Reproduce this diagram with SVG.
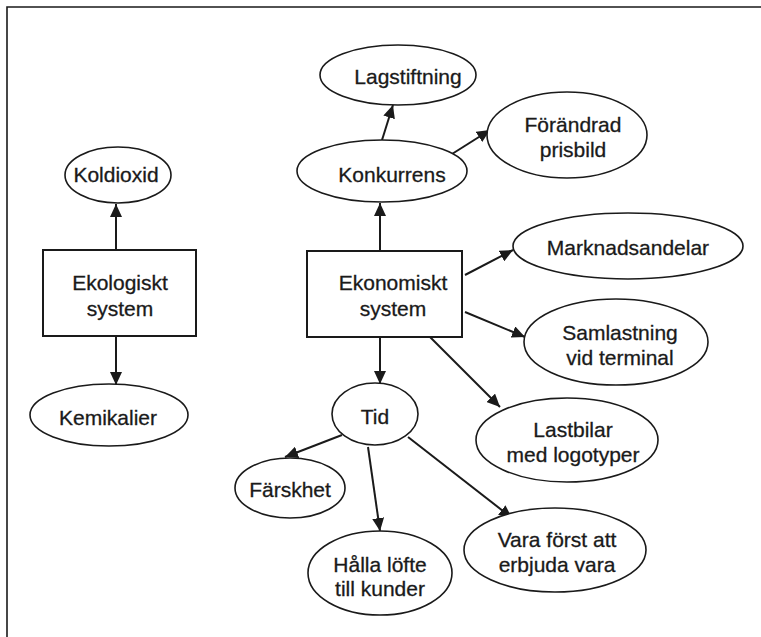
<svg xmlns="http://www.w3.org/2000/svg" width="761" height="637" viewBox="0 0 761 637">
<style>
.n{fill:#fff;stroke:#1a1a1a;stroke-width:1.6}
.b{fill:#fff;stroke:#1a1a1a;stroke-width:2}
.c{stroke:#1a1a1a;stroke-width:2;fill:none;marker-end:url(#ah)}
text{font-family:"Liberation Sans",Arial,sans-serif;font-size:21px;fill:#1a1a1a;stroke:#1a1a1a;stroke-width:0.3;text-anchor:middle}
</style>
<defs>
<marker id="ah" markerWidth="14" markerHeight="12" refX="13" refY="6" orient="auto" markerUnits="userSpaceOnUse">
<path d="M0,0 L13,6 L0,12 Z" fill="#1a1a1a"/>
</marker>
</defs>
<path d="M7,637 V7 H761" fill="none" stroke="#1a1a1a" stroke-width="1.6"/>
<g id="connectors">
<line class="c" x1="116" y1="250" x2="116" y2="204"/>
<line class="c" x1="116" y1="336" x2="116" y2="385"/>
<line class="c" x1="380" y1="251" x2="380" y2="203"/>
<line class="c" x1="382" y1="140" x2="393" y2="105"/>
<line class="c" x1="452" y1="154" x2="490" y2="130"/>
<line class="c" x1="465" y1="275" x2="513" y2="250"/>
<line class="c" x1="465" y1="312" x2="525" y2="337"/>
<line class="c" x1="430" y1="337" x2="500" y2="407"/>
<line class="c" x1="380" y1="337" x2="380" y2="384"/>
<line class="c" x1="342" y1="435" x2="285" y2="457"/>
<line class="c" x1="368" y1="447" x2="380" y2="531"/>
<line class="c" x1="408" y1="437" x2="512" y2="518"/>
</g>
<g id="koldioxid"><ellipse class="n" cx="118" cy="175" rx="53" ry="28"/><text x="116" y="182">Koldioxid</text></g>
<g id="ekologiskt"><rect class="b" x="43" y="250" width="153" height="86"/><text x="120" y="290">Ekologiskt</text><text x="120" y="316">system</text></g>
<g id="kemikalier"><ellipse class="n" cx="109" cy="415" rx="79" ry="31"/><text x="108" y="425">Kemikalier</text></g>
<g id="lagstiftning"><ellipse class="n" cx="398" cy="75" rx="78" ry="30"/><text x="408" y="84">Lagstiftning</text></g>
<g id="konkurrens"><ellipse class="n" cx="382" cy="171" rx="85" ry="31"/><text x="392" y="182">Konkurrens</text></g>
<g id="forandrad"><ellipse class="n" cx="567" cy="135" rx="80" ry="43"/><text x="573" y="132">Förändrad</text><text x="573" y="157">prisbild</text></g>
<g id="marknadsandelar"><ellipse class="n" cx="628" cy="246" rx="115" ry="33"/><text x="628" y="255">Marknadsandelar</text></g>
<g id="ekonomiskt"><rect class="b" x="307" y="251" width="155" height="86"/><text x="393" y="290">Ekonomiskt</text><text x="393" y="316">system</text></g>
<g id="samlastning"><ellipse class="n" cx="616" cy="342" rx="92" ry="43"/><text x="620" y="340">Samlastning</text><text x="620" y="365">vid terminal</text></g>
<g id="tid"><ellipse class="n" cx="375" cy="414" rx="43" ry="31"/><text x="375" y="424">Tid</text></g>
<g id="lastbilar"><ellipse class="n" cx="567" cy="440" rx="91" ry="42"/><text x="573" y="437">Lastbilar</text><text x="573" y="462">med logotyper</text></g>
<g id="farskhet"><ellipse class="n" cx="290" cy="488" rx="55" ry="30"/><text x="290" y="497">Färskhet</text></g>
<g id="halla"><ellipse class="n" cx="380" cy="573" rx="72" ry="42"/><text x="380" y="572">Hålla löfte</text><text x="380" y="596">till kunder</text></g>
<g id="vara"><ellipse class="n" cx="555" cy="550" rx="91" ry="42"/><text x="557" y="547">Vara först att</text><text x="557" y="572">erbjuda vara</text></g>
</svg>
